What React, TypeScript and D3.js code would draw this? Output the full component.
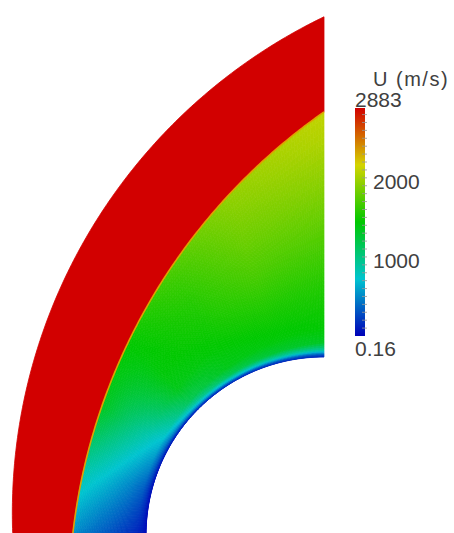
import * as d3 from "d3";

// velocity range shown on the colour bar (m/s)
const U_MIN = 0.16;
const U_MAX = 2883;
const barLabels = [2000, 1000];
const endLabels = ["2883", "0.16"];
const barTitle = "U (m/s)";

// geometry in body radii, origin = body centre, x < 0 upstream, y up along the axis
const BODY_RADIUS = 1;
const shockCircle = { cx: 1.927, cy: -0.376, r: 3.36 };
const outerCircle = { cx: 1.343, cy: 0.124, r: 3.094 };
const BASE_Y = -0.06; // lowest y drawn (just below the picture edge)

// velocity magnitude in the shock layer
// rows: angle (deg), columns: fraction of the way from body (0) to shock (1)
const fieldAngles = [0, 15, 30, 45, 60, 75, 90];
const fieldLevels = [0, 0.012, 0.03, 0.06, 0.12, 0.3, 0.5, 0.7, 0.9, 1];
const fieldU = [
  [30, 60, 70, 90, 120, 200, 290, 370, 460, 520],
  [60, 90, 140, 230, 350, 490, 610, 720, 810, 860],
  [90, 140, 290, 460, 690, 840, 980, 1120, 1270, 1330],
  [120, 230, 520, 860, 1150, 1360, 1410, 1420, 1440, 1460],
  [120, 290, 720, 1150, 1360, 1440, 1500, 1560, 1640, 1700],
  [120, 350, 860, 1270, 1410, 1530, 1680, 1800, 1900, 1950],
  [120, 350, 920, 1330, 1440, 1560, 1730, 1900, 2050, 2100],
];

const W = 454;
const H = 533;

const xScale = d3.scaleLinear().domain([-2, 0]).range([-32, 324]);
const yScale = d3.scaleLinear().domain([0, 3]).range([535, 1]);
const uScale = d3.scaleLinear().domain([U_MIN, U_MAX]).range([336, 108]);

const rainbow = ["#0000b8", "#00c4d0", "#00c800", "#d4d400", "#d20000"];
const color = d3
  .scaleLinear<string>()
  .domain(rainbow.map((_, i) => U_MIN + (i / (rainbow.length - 1)) * (U_MAX - U_MIN)))
  .range(rainbow)
  .interpolate(d3.interpolateRgb)
  .clamp(true);

// arc of a boundary circle from the base (y = BASE_Y) up to the axis (x = 0)
const arc = (c: { cx: number; cy: number; r: number }, n: number) => {
  const phiBase = Math.PI - Math.asin((BASE_Y - c.cy) / c.r);
  const phiAxis = Math.acos(-c.cx / c.r);
  return d3.range(n + 1).map((k) => {
    const phi = phiBase + (k / n) * (phiAxis - phiBase);
    return [c.cx + c.r * Math.cos(phi), c.cy + c.r * Math.sin(phi)] as [number, number];
  });
};

const segment = (arr: number[], v: number) => {
  let i = d3.bisectRight(arr, v) - 1;
  i = Math.max(0, Math.min(arr.length - 2, i));
  const f = Math.max(0, Math.min(1, (v - arr[i]) / (arr[i + 1] - arr[i])));
  return [i, f];
};

const fieldAt = (deg: number, s: number) => {
  const [i, ta] = segment(fieldAngles, Math.max(0, Math.min(90, deg)));
  const [j, sa] = segment(fieldLevels, s);
  const a = fieldU[i][j] * (1 - sa) + fieldU[i][j + 1] * sa;
  const b = fieldU[i + 1][j] * (1 - sa) + fieldU[i + 1][j + 1] * sa;
  return a * (1 - ta) + b * ta;
};

const NA = 150;
const NR = 60;
const levels = d3.range(NR + 1).map((k) => Math.pow(k / NR, 1.6));

// each shock point with the body point on the same ray from the body centre
const rays = arc(shockCircle, NA).map(([sx, sy]) => {
  const a = Math.atan2(sy, -sx);
  return { sx, sy, bx: -BODY_RADIUS * Math.cos(a), by: BODY_RADIUS * Math.sin(a), deg: (a * 180) / Math.PI };
});

const layerPoint = (k: number, s: number): [number, number] => {
  const r = rays[k];
  return [xScale(r.bx + s * (r.sx - r.bx)), yScale(r.by + s * (r.sy - r.by))];
};

const line = d3.line();

const Field = () => {
  const cells: JSX.Element[] = [];
  for (let i = 0; i < NA; i++) {
    for (let j = 0; j < NR; j++) {
      const s0 = levels[j], s1 = levels[j + 1];
      const p = [layerPoint(i, s0), layerPoint(i + 1, s0), layerPoint(i + 1, s1), layerPoint(i, s1)];
      const c = color(fieldAt((rays[i].deg + rays[i + 1].deg) / 2, (s0 + s1) / 2));
      cells.push(
        <path key={`${i}-${j}`} d={(line(p) ?? "") + "Z"} fill={c} stroke={c} strokeWidth={0.7} />
      );
    }
  }
  return <g>{cells}</g>;
};

export default function App() {
  const outerPts = arc(outerCircle, NA).map(([x, y]) => [xScale(x), yScale(y)] as [number, number]);
  const shockPts = rays.map((r) => [xScale(r.sx), yScale(r.sy)] as [number, number]);
  const freestream = (line([...outerPts, ...shockPts.slice().reverse()]) ?? "") + "Z";

  const gradStops = d3.range(0, 1.0001, 0.05);
  const ticks = d3.range(100, U_MAX, 100);
  const barX = 355;
  const barW = 10;

  return (
    <svg
      width={W}
      height={H}
      style={{ position: "absolute", left: 0, top: 0, background: "#fff" }}
      fontFamily="'Liberation Sans', Arial, sans-serif"
    >
      <defs>
        <linearGradient id="ubar" x1="0" y1="1" x2="0" y2="0">
          {gradStops.map((f) => (
            <stop key={f} offset={f} stopColor={color(U_MIN + f * (U_MAX - U_MIN))} />
          ))}
        </linearGradient>
      </defs>

      <path d={freestream} fill={color(U_MAX)} stroke={color(U_MAX)} strokeWidth={0.8} />
      <Field />
      <path d={line(shockPts) ?? ""} fill="none" stroke="#e0a000" strokeWidth={1.6} />

      {/* colour bar */}
      <rect x={barX} y={uScale(U_MAX)} width={barW} height={uScale(U_MIN) - uScale(U_MAX)} fill="url(#ubar)" />
      {ticks.map((t) => (
        <line key={t} x1={barX + 7} x2={barX + 12} y1={uScale(t)} y2={uScale(t)} stroke="#9a9a9a" strokeWidth={1} opacity={0.8} />
      ))}
      <text x={373} y={86} fontSize={20} fill="#404040" letterSpacing={1.5}>
        {barTitle}
      </text>
      <text x={barX} y={uScale(U_MAX) - 1} fontSize={21} fill="#404040">
        {endLabels[0]}
      </text>
      <text x={barX} y={uScale(U_MIN) + 20} fontSize={21} fill="#404040">
        {endLabels[1]}
      </text>
      {barLabels.map((v) => (
        <text key={v} x={373} y={uScale(v) + 11} fontSize={21} fill="#404040">
          {v}
        </text>
      ))}
    </svg>
  );
}
